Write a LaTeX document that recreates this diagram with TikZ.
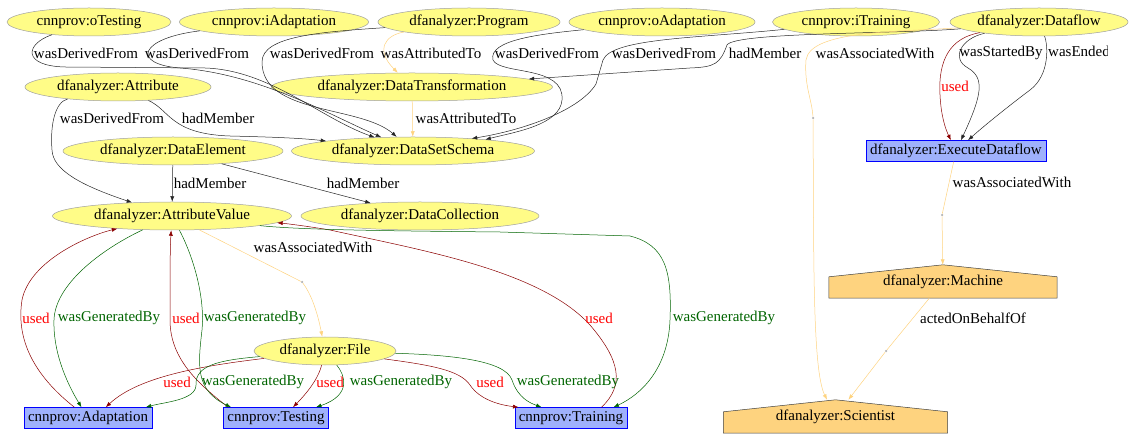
\documentclass[tikz,border=0pt]{standalone}
\usepackage{fontspec}
\setmainfont{Liberation Serif}
\usetikzlibrary{shapes.geometric,arrows.meta,backgrounds}
\definecolor{entfill}{HTML}{FFFC87}
\definecolor{entline}{HTML}{A0A0A0}
\definecolor{actfill}{HTML}{9FB1FC}
\definecolor{actline}{HTML}{0000FF}
\definecolor{agtfill}{HTML}{FED37F}
\definecolor{usedline}{HTML}{8B0000}
\definecolor{usedtext}{HTML}{FF0000}
\definecolor{genline}{HTML}{006400}

\begin{document}
\begin{tikzpicture}[x=1pt,y=-1pt]
\tikzstyle{every node}=[font=\fontsize{15}{17}\selectfont]
\tikzstyle{ent}=[ellipse,draw=entline,fill=entfill,line width=0.5pt,inner xsep=-40pt,inner ysep=0pt,minimum height=28pt]
\tikzstyle{act}=[rectangle,draw=actline,fill=actfill,line width=0.5pt,inner xsep=4pt,inner ysep=0pt,minimum height=21pt]
\tikzstyle{agt}=[rectangle,inner sep=0pt,minimum height=33pt]
\tikzstyle{pnt}=[circle,fill=gray!60,inner sep=0pt,minimum size=2.5pt]
\tikzstyle{lab}=[inner sep=0pt]
\tikzstyle{ulab}=[lab,text=usedtext]
\tikzstyle{glab}=[lab,text=genline]
\tikzstyle{rel}=[line width=0.5pt,draw=black!85,-{Latex[length=5.5pt,width=4pt]}]
\tikzstyle{used}=[rel,draw=usedline]
\tikzstyle{gen}=[rel,draw=genline]
\tikzstyle{assoc}=[rel,draw=agtfill]
\tikzstyle{half}=[line width=0.5pt,draw=agtfill]
\useasboundingbox (0,0) rectangle (1129,435);

\node[ent,minimum width=164pt] (ot) at (89,22) {cnnprov:oTesting};
\node[ent,minimum width=189pt] (ia) at (274,22) {cnnprov:iAdaptation};
\node[ent,minimum width=182pt] (prog) at (469,22) {dfanalyzer:Program};
\node[ent,minimum width=186pt] (oa) at (662,22) {cnnprov:oAdaptation};
\node[ent,minimum width=167pt] (it) at (856,22) {cnnprov:iTraining};
\node[ent,minimum width=178pt] (df) at (1039,22) {dfanalyzer:Dataflow};
\node[ent,minimum width=186pt] (attr) at (118,87) {dfanalyzer:Attribute};
\node[ent,minimum width=281pt] (dt) at (412,87) {dfanalyzer:DataTransformation};
\node[ent,minimum width=220pt] (de) at (173,151) {dfanalyzer:DataElement};
\node[ent,minimum width=243pt] (dss) at (413,151) {dfanalyzer:DataSetSchema};
\node[ent,minimum width=239pt] (av) at (172,216) {dfanalyzer:AttributeValue};
\node[ent,minimum width=238pt] (dc) at (420,216) {dfanalyzer:DataCollection};
\node[ent,minimum width=142pt] (file) at (325,351) {dfanalyzer:File};
\node[act] (exec) at (956,151) {dfanalyzer:ExecuteDataflow};
\node[act] (adapt) at (88,418) {cnnprov:Adaptation};
\node[act] (test) at (276,418) {cnnprov:Testing};
\node[act] (train) at (571,418) {cnnprov:Training};
\node[agt,minimum width=228pt] (mach) at (943,281.5) {dfanalyzer:Machine};
\node[agt,minimum width=224pt] (sci) at (835.5,416.5) {dfanalyzer:Scientist};
\node[pnt] (d1) at (813,118) {};
\node[pnt] (d2) at (942,215) {};
\node[pnt] (d3) at (886,351) {};
\node[pnt] (d4) at (302,282) {};

\begin{scope}[on background layer]
\draw[fill=agtfill,draw=black!75,line width=0.5pt] (mach.south west) -- (mach.south east) -- ([yshift=-12pt]mach.north east) -- (mach.north) -- ([yshift=-12pt]mach.north west) -- cycle;
\draw[fill=agtfill,draw=black!75,line width=0.5pt] (sci.south west) -- (sci.south east) -- ([yshift=-12pt]sci.north east) -- (sci.north) -- ([yshift=-12pt]sci.north west) -- cycle;
\end{scope}

\draw[rel] (ot) .. controls (25,44) and (22,66) .. (65,67) -- (205,68) .. controls (270,70) and (320,118) .. (dss);
\draw[rel] (ia) .. controls (140,38) and (130,64) .. (180,68) .. controls (260,74) and (330,115) .. (dss);
\draw[rel] (prog) .. controls (320,32) and (262,36) .. (262,62) .. controls (262,115) and (360,105) .. (dss);
\draw[assoc] (prog) .. controls (385,35) and (375,50) .. (dt);
\draw[rel] (oa) .. controls (540,34) and (488,40) .. (493,60) .. controls (500,75) and (565,65) .. (562,100) .. controls (560,125) and (515,132) .. (dss.9);
\draw[rel] (it) .. controls (700,38) and (612,38) .. (603,60) -- (596,84) .. controls (580,110) and (525,130) .. (dss.12);
\draw[rel] (df) .. controls (900,34) and (735,32) .. (727,45) .. controls (720,64) and (715,67) .. (690,68) -- (dt);
\draw[half] (df) .. controls (900,32) and (810,30) .. (806,60) .. controls (804,85) and (812,100) .. (d1);
\draw[assoc] (d1) .. controls (814,250) and (812,370) .. (sci);
\draw[used] (df) .. controls (950,38) and (938,60) .. (940,95) .. controls (941,115) and (945,128) .. (exec);
\draw[rel] (df) .. controls (962,38) and (950,58) .. (968,68) .. controls (985,78) and (982,95) .. (exec);
\draw[rel] (df) .. controls (1048,45) and (1050,75) .. (1030,90) .. controls (1010,105) and (985,125) .. (exec);
\draw[half] (exec) -- (d2);
\draw[assoc] (d2) -- (mach);
\draw[half] (mach) -- (d3);
\draw[assoc] (d3) -- (sci);
\draw[rel] (attr) .. controls (55,102) and (50,125) .. (52,150) .. controls (53,170) and (80,185) .. (av);
\draw[rel] (attr) .. controls (170,110) and (170,134) .. (230,136) .. controls (270,137) and (300,138) .. (dss);
\draw[assoc] (dt) -- (dss);
\draw[rel] (de) -- (av);
\draw[rel] (de) -- (dc);
\draw[half] (av) -- (d4);
\draw[assoc] (d4) .. controls (312,295) and (318,315) .. (file);
\draw[used] (adapt) .. controls (40,380) and (15,345) .. (22,300) .. controls (30,260) and (90,235) .. (av);
\draw[gen] (av) .. controls (100,250) and (55,285) .. (54,320) .. controls (53,350) and (65,380) .. (adapt);
\draw[used] ([xshift=5pt]test.north west) .. controls (200,385) and (170,360) .. (170,320) .. controls (170,280) and (170,250) .. (av);
\draw[gen] (av) .. controls (195,260) and (205,300) .. (202,330) .. controls (198,365) and (195,390) .. ([xshift=8pt]test.north west);
\draw[used] ([xshift=-26pt]train.north east) .. controls (625,385) and (620,360) .. (590,325) .. controls (540,270) and (420,250) .. (330,230) .. controls (300,225) and (280,223) .. (av);
\draw[gen] (av) .. controls (300,230) and (400,231) .. (500,232) -- (630,236) .. controls (665,245) and (672,270) .. (670,320) .. controls (668,370) and (640,395) .. ([xshift=-14pt]train.north east);
\draw[used] (file) .. controls (210,365) and (140,375) .. ([xshift=82pt]adapt.north west);
\draw[gen] (file) .. controls (220,360) and (195,365) .. (196,385) .. controls (196,400) and (165,402) .. ([xshift=122pt]adapt.north west);
\draw[used] (file) .. controls (318,380) and (305,395) .. ([xshift=17pt]test.north);
\draw[gen] (file) .. controls (345,375) and (352,395) .. ([xshift=40pt]test.north);
\draw[used] (file) .. controls (430,365) and (460,370) .. (470,385) .. controls (480,400) and (500,405) .. ([xshift=4pt]train.north west);
\draw[gen] (file) .. controls (450,355) and (505,360) .. (512,380) .. controls (518,398) and (530,403) .. ([xshift=27pt]train.north west);

\node[lab] (l1) at (86,53) {wasDerivedFrom};
\node[lab] (l2) at (197,53) {wasDerivedFrom};
\node[lab] (l3) at (322,53) {wasDerivedFrom};
\node[lab] (l4) at (431,53) {wasAttributedTo};
\node[lab] (l5) at (547,53) {wasDerivedFrom};
\node[lab] (l6) at (664,53) {wasDerivedFrom};
\node[lab] (l7) at (765,53) {hadMember};
\node[lab] (l8) at (875,53) {wasAssociatedWith};
\node[ulab] (l9) at (955,86) {used};
\node[lab] (l10) at (1001,53) {wasStartedBy};
\begin{scope}
\clip (1040,40) rectangle (1107,70);
\node[lab,anchor=west] (l11) at (1048,53) {wasEndedBy};
\end{scope}
\node[lab] (l12) at (1012,182) {wasAssociatedWith};
\node[lab] (l13) at (973,318) {actedOnBehalfOf};
\node[lab] (l14) at (112,118) {wasDerivedFrom};
\node[lab] (l15) at (218,118) {hadMember};
\node[lab] (l16) at (466,118) {wasAttributedTo};
\node[lab] (l17) at (210,183) {hadMember};
\node[lab] (l18) at (363,183) {hadMember};
\node[lab] (l19) at (313,247) {wasAssociatedWith};
\node[ulab] (l20) at (36,318) {used};
\node[glab] (l21) at (109,318) {wasGeneratedBy};
\node[ulab] (l22) at (186,318) {used};
\node[glab] (l23) at (255,318) {wasGeneratedBy};
\node[ulab] (l24) at (599,318) {used};
\node[glab] (l25) at (724,318) {wasGeneratedBy};
\node[ulab] (l26) at (177,382) {used};
\node[glab] (l27) at (253,382) {wasGeneratedBy};
\node[ulab] (l28) at (330,382) {used};
\node[glab] (l29) at (401,382) {wasGeneratedBy};
\node[ulab] (l30) at (490,382) {used};
\node[glab] (l31) at (568,382) {wasGeneratedBy};
\end{tikzpicture}
\end{document}
